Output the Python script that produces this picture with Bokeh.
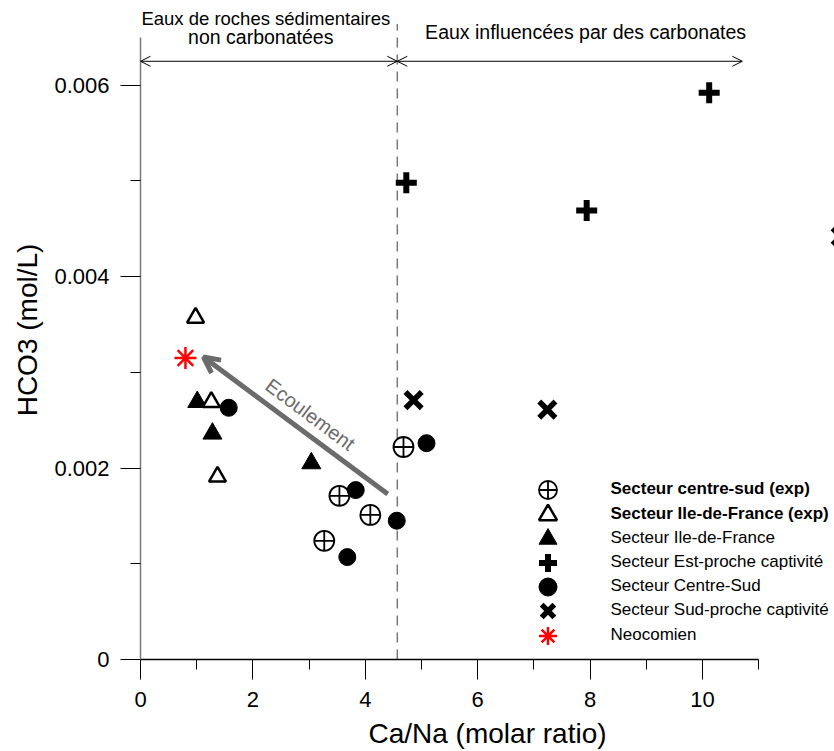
from bokeh.plotting import figure
from bokeh.models import (FixedTicker, Legend, LegendItem, Arrow, OpenHead, Label, Range1d)
from bokeh.embed import file_html
from bokeh.resources import INLINE

FONT = "Liberation Sans"

# ---- data ----
cs_exp_x = [4.68, 3.54, 4.09, 3.27]
cs_exp_y = [0.00222, 0.00171, 0.00151, 0.00124]

idf_exp_x = [0.98, 1.26, 1.37]
idf_exp_y = [0.00357, 0.00269, 0.00191]

idf_x = [1.01, 1.28, 3.04]
idf_y = [0.00269, 0.00236, 0.00205]

est_x = [4.73, 7.94, 10.12]
est_y = [0.00498, 0.00469, 0.00592]

cs_x = [1.57, 3.83, 5.09, 4.56, 3.68]
cs_y = [0.00263, 0.00177, 0.00226, 0.00145, 0.00107]

sud_x = [4.86, 7.24, 12.46]
sud_y = [0.00271, 0.00261, 0.00442]

neo_x = [0.80]
neo_y = [0.00315]

boundary_x = 4.57
x_ticks = [0, 2, 4, 6, 8, 10]
x_minor = [1, 3, 5, 7, 9, 11]
y_ticks = [0, 0.002, 0.004, 0.006]
y_tick_labels = ["0", "0.002", "0.004", "0.006"]
y_minor = [0.001, 0.003, 0.005]

p = figure(width=834, height=751, x_range=Range1d(0, 12.35), y_range=Range1d(0, 0.006885),
           output_backend="svg", toolbar_location=None,
           min_border_left=140, min_border_right=0, min_border_top=0, min_border_bottom=90)
p.outline_line_color = None
p.xgrid.visible = False
p.ygrid.visible = False
p.background_fill_color = "white"

# axes
p.xaxis.ticker = FixedTicker(ticks=x_ticks, minor_ticks=x_minor)
p.yaxis.ticker = FixedTicker(ticks=y_ticks, minor_ticks=y_minor)
p.yaxis.major_label_overrides = {t: s for t, s in zip(y_ticks, y_tick_labels)}
p.xaxis.bounds = (0, 11)
p.yaxis.bounds = (0, 0.0065)
for ax in (p.xaxis, p.yaxis):
    ax.major_tick_in = 0
    ax.minor_tick_in = 0
    ax.major_tick_out = 20
    ax.minor_tick_out = 10
    ax.major_tick_line_color = "black"
    ax.minor_tick_line_color = "black"
    ax.major_label_text_font = FONT
    ax.major_label_text_font_size = "22px"
    ax.major_label_text_color = "black"
    ax.axis_label_text_font = FONT
    ax.axis_label_text_font_size = "28px"
    ax.axis_label_text_font_style = "normal"
    ax.axis_label_text_color = "black"
p.xaxis.axis_line_color = "black"
p.xaxis.axis_line_width = 1.5
p.yaxis.axis_line_color = "#7a7a7a"
p.yaxis.axis_line_width = 1.5
p.xaxis.axis_label = "Ca/Na (molar ratio)"
p.yaxis.axis_label = "HCO3 (mol/L)"
p.xaxis.major_label_standoff = 12
p.xaxis.axis_label_standoff = 8
p.yaxis.major_label_standoff = 11
p.yaxis.axis_label_standoff = 8

# boundary dashed line
p.segment(x0=[boundary_x], y0=[0], x1=[boundary_x], y1=[0.00664],
          line_color="#777777", line_width=1.5, line_dash="10 7")

# top arrows and texts
ya = 0.00625
p.add_layout(Arrow(x_start=0, y_start=ya, x_end=boundary_x, y_end=ya, line_width=1,
                   start=OpenHead(size=10, line_width=1), end=OpenHead(size=10, line_width=1)))
p.add_layout(Arrow(x_start=boundary_x, y_start=ya, x_end=10.71, y_end=ya, line_width=1,
                   start=OpenHead(size=10, line_width=1), end=OpenHead(size=10, line_width=1)))
for txt, x, y, fs in [("Eaux de roches sédimentaires", 2.23, 0.0067, "18.5px"),
                      ("non carbonatées", 2.14, 0.0065, "19.5px"),
                      ("Eaux influencées par des carbonates", 7.92, 0.00656, "19.5px")]:
    p.add_layout(Label(x=x, y=y, text=txt, text_align="center", text_baseline="alphabetic",
                       text_font=FONT, text_font_size=fs, text_color="black"))

# flow arrow
GRAY = "#6b6b6b"
p.add_layout(Arrow(x_start=4.40, y_start=0.00173, x_end=1.12, y_end=0.00316,
                   line_width=5, line_color=GRAY,
                   end=OpenHead(size=16, line_width=5, line_color=GRAY)))
p.add_layout(Label(x=3.02, y=0.00256, text="Ecoulement", angle=-36.7, angle_units="deg",
                   text_align="center", text_baseline="middle", text_font=FONT,
                   text_font_size="20px", text_color=GRAY))

# data
r_idf = p.scatter(idf_x, idf_y, marker="triangle", size=19, fill_color="black",
                  line_color="black", line_width=1)
r_idf_exp = p.scatter(idf_exp_x, idf_exp_y, marker="triangle", size=17, fill_color="white",
                      line_color="black", line_width=2.5)
r_cs_exp = p.scatter(cs_exp_x, cs_exp_y, marker="circle_cross", size=20, fill_color="white",
                     line_color="black", line_width=1.8)
r_cs = p.scatter(cs_x, cs_y, marker="circle", size=17, fill_color="black", line_color="black")
r_est = p.scatter(est_x, est_y, marker="cross", size=21, line_color="black", line_width=6)
r_sud = p.scatter(sud_x, sud_y, marker="x", size=23, line_color="black", line_width=5.5)
r_neo = p.scatter(neo_x, neo_y, marker="asterisk", size=22, line_color="red", line_width=2.5)

legend_rows = [
    ("Secteur centre-sud (exp)", r_cs_exp, "bold", 491),
    ("Secteur Ile-de-France (exp)", r_idf_exp, "bold", 516),
    ("Secteur Ile-de-France", r_idf, "normal", 540),
    ("Secteur Est-proche captivité", r_est, "normal", 564),
    ("Secteur Centre-Sud", r_cs, "normal", 588),
    ("Secteur Sud-proche captivité", r_sud, "normal", 612),
    ("Neocomien", r_neo, "normal", 637),
]
for label, rend, style, yc in legend_rows:
    leg = Legend(items=[LegendItem(label=label, renderers=[rend])],
                 location=(384.5, 638.5 - yc), glyph_width=45, glyph_height=45,
                 spacing=0, padding=0, margin=0, label_standoff=41,
                 label_text_font=FONT, label_text_font_size="17px",
                 label_text_font_style=style, label_text_color="black",
                 border_line_color=None, background_fill_alpha=0, label_height=20)
    p.add_layout(leg)

open("out.html", "w").write(file_html(p, INLINE))
